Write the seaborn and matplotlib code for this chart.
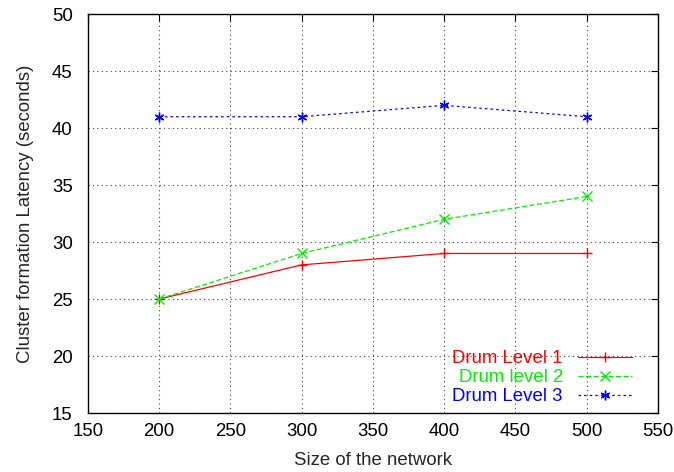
import matplotlib
matplotlib.use("Agg")
import matplotlib.pyplot as plt
import seaborn as sns
import pandas as pd

sizes = [200, 300, 400, 500]
level1 = [25, 28, 29, 29]
level2 = [25, 29, 32, 34]
level3 = [41, 41, 42, 41]
series_names = ["Drum Level 1", "Drum level 2", "Drum Level 3"]
colors = ["#ff0000", "#00ee00", "#0000ff"]

df = pd.DataFrame({
    "size": sizes * 3,
    "latency": level1 + level2 + level3,
    "series": [series_names[0]] * 4 + [series_names[1]] * 4 + [series_names[2]] * 4,
})

sns.set_style("white")
plt.rcParams["font.family"] = ["Liberation Sans", "DejaVu Sans"]

FS = 13.4
fig = plt.figure(figsize=(6.74, 4.72), dpi=100)
ax = fig.add_axes([0.1306, 0.125, 0.976 - 0.1306, 0.970 - 0.125])

markers = ["+", "x", (6, 2, 0)]
dashes = [None, (4, 2), (2, 2.5)]
for name, col, mk, ds in zip(series_names, colors, markers, dashes):
    sub = df[df["series"] == name]
    sns.lineplot(data=sub, x="size", y="latency", ax=ax, color=col, marker=mk,
                 markersize=7, markeredgewidth=1.0, linewidth=0.9, label=name,
                 markeredgecolor=col)
    if ds is not None:
        ax.lines[-1].set_dashes(ds)

ax.set_xlim(150, 550)
ax.set_ylim(15, 50)
ax.set_xticks(range(150, 551, 50))
ax.set_yticks(range(15, 51, 5))
ax.grid(True, color="#444444", linestyle=(0, (1, 3)), linewidth=0.8)
ax.set_axisbelow(True)
for s in ax.spines.values():
    s.set_color("black")
    s.set_linewidth(1.0)
ax.tick_params(direction="in", length=5, width=0.8, top=True, right=True,
               labelsize=FS, colors="black")
ax.tick_params(axis="x", pad=7)
ax.tick_params(axis="y", pad=11)
ax.set_xlabel("Size of the network", fontsize=FS, labelpad=9)
ax.set_ylabel("Cluster formation Latency (seconds)", fontsize=FS, labelpad=13)

leg = ax.legend(loc="lower right", bbox_to_anchor=(0.954, 0.02), frameon=False,
                markerfirst=False, fontsize=FS, labelcolor="linecolor",
                handlelength=2.9, handletextpad=0.8, labelspacing=0.1,
                borderpad=0, borderaxespad=0)
for t in leg.get_texts():
    t.set_ha("right")

fig.savefig("out.png", dpi=100)
